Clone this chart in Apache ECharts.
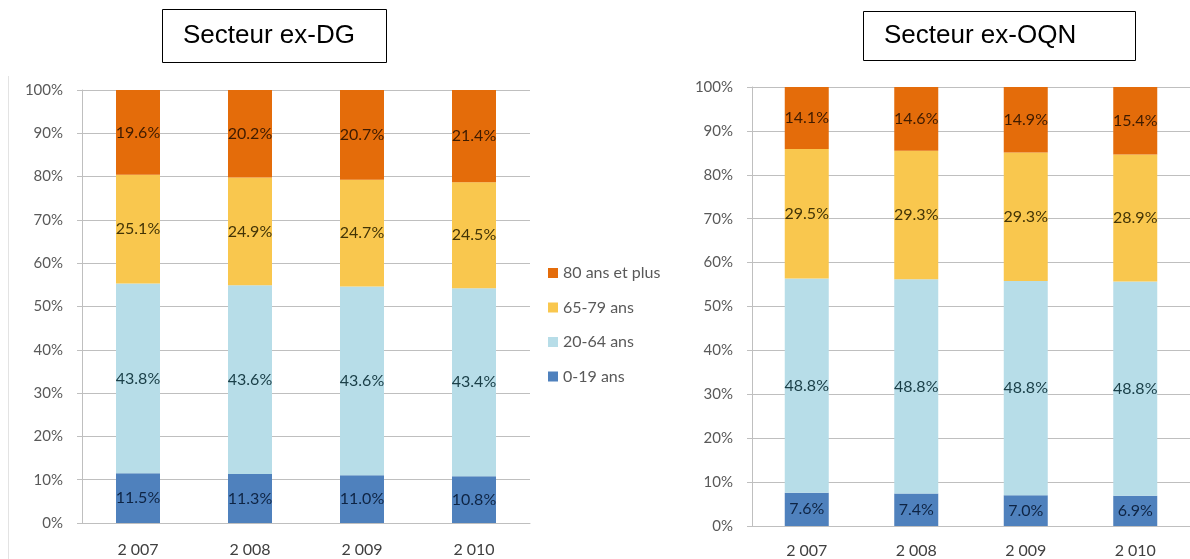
<!DOCTYPE html>
<html>
<head>
<meta charset="utf-8">
<script src="https://cdn.jsdelivr.net/npm/echarts@6/dist/echarts.min.js"></script>
<style>
  html, body { margin: 0; padding: 0; background: #ffffff; }
  #chart { width: 1190px; height: 559px; }
</style>
</head>
<body>
<div id="chart"></div>
<script>
// Years on the category axis
const years = ['2 007', '2 008', '2 009', '2 010'];
// Age groups, bottom to top of each stack
const ageGroups = ['0-19 ans', '20-64 ans', '65-79 ans', '80 ans et plus'];
// Y-axis tick labels (percent)
const yTicks = [0, 10, 20, 30, 40, 50, 60, 70, 80, 90, 100];

// Secteur ex-DG shares (%)
const dg_0_19   = [11.5, 11.3, 11.0, 10.8];
const dg_20_64  = [43.8, 43.6, 43.6, 43.4];
const dg_65_79  = [25.1, 24.9, 24.7, 24.5];
const dg_80plus = [19.6, 20.2, 20.7, 21.4];

// Secteur ex-OQN shares (%)
const oqn_0_19   = [7.6, 7.4, 7.0, 6.9];
const oqn_20_64  = [48.8, 48.8, 48.8, 48.8];
const oqn_65_79  = [29.5, 29.3, 29.3, 28.9];
const oqn_80plus = [14.1, 14.6, 14.9, 15.4];

const colors = ['#4F81BD', '#B7DDE8', '#F9C74E', '#E46C0A'];
const labelColors = ['#0e2444', '#1b4049', '#433406', '#3e1b00'];
const axisFont = 'Lato, "Open Sans", sans-serif';

function stackSeries(values, gridIdx) {
  return values.map((data, i) => ({
    name: ageGroups[i],
    type: 'bar',
    stack: 'g' + gridIdx,
    xAxisIndex: gridIdx,
    yAxisIndex: gridIdx,
    barWidth: 44,
    data: data,
    itemStyle: { color: colors[i] },
    label: {
      show: true,
      position: 'inside',
      formatter: p => p.value.toFixed(1) + '%',
      color: labelColors[i],
      fontFamily: axisFont,
      fontSize: 16
    }
  }));
}

function yAxis(gridIdx) {
  return {
    type: 'value',
    gridIndex: gridIdx,
    min: yTicks[0],
    max: yTicks[yTicks.length - 1],
    interval: yTicks[1] - yTicks[0],
    axisLine: { show: true, lineStyle: { color: '#BFBFBF' } },
    axisTick: { show: true, length: 5, lineStyle: { color: '#BFBFBF' } },
    splitLine: { lineStyle: { color: '#BFBFBF' } },
    axisLabel: {
      formatter: v => v + '%',
      color: '#595959',
      fontFamily: axisFont,
      fontSize: 15,
      margin: 19
    }
  };
}

function xAxis(gridIdx, margin) {
  return {
    type: 'category',
    gridIndex: gridIdx,
    data: years,
    axisLine: { lineStyle: { color: '#BFBFBF' } },
    axisTick: { length: 5, lineStyle: { color: '#BFBFBF' } },
    axisLabel: {
      color: '#404040',
      fontFamily: axisFont,
      fontSize: 16,
      margin: margin
    }
  };
}

const chart = echarts.init(document.getElementById('chart'), null, { renderer: 'canvas' });

chart.setOption({
  animation: false,
  backgroundColor: '#ffffff',
  grid: [
    { left: 82, top: 90, width: 448, height: 433 },
    { left: 752, top: 87, width: 452, height: 441 }
  ],
  xAxis: [xAxis(0, 19), xAxis(1, 17)],
  yAxis: [yAxis(0), yAxis(1)],
  legend: {
    orient: 'vertical',
    left: 543,
    top: 260,
    itemWidth: 10,
    itemHeight: 10,
    itemGap: 18.5,
    icon: 'rect',
    data: ageGroups.slice().reverse(),
    textStyle: { color: '#595959', fontFamily: axisFont, fontSize: 16 }
  },
  graphic: [
    // faint edge of the left chart area
    {
      type: 'line',
      shape: { x1: 8.5, y1: 76, x2: 8.5, y2: 559 },
      style: { stroke: '#E3E3E3', lineWidth: 1 }
    },
    {
      type: 'rect',
      shape: { x: 162.5, y: 9.5, width: 224, height: 53 },
      style: { fill: '#ffffff', stroke: '#000000', lineWidth: 1 }
    },
    {
      type: 'text',
      x: 183, y: 36,
      style: { text: 'Secteur ex-DG', font: '26px "Liberation Sans", Arial, sans-serif', fill: '#000000', verticalAlign: 'middle' }
    },
    {
      type: 'rect',
      shape: { x: 863.5, y: 11.5, width: 272, height: 49 },
      style: { fill: '#ffffff', stroke: '#000000', lineWidth: 1 }
    },
    {
      type: 'text',
      x: 884, y: 36,
      style: { text: 'Secteur ex-OQN', font: '26px "Liberation Sans", Arial, sans-serif', fill: '#000000', verticalAlign: 'middle' }
    }
  ],
  series: [
    ...stackSeries([dg_0_19, dg_20_64, dg_65_79, dg_80plus], 0),
    ...stackSeries([oqn_0_19, oqn_20_64, oqn_65_79, oqn_80plus], 1)
  ]
});
</script>
</body>
</html>
